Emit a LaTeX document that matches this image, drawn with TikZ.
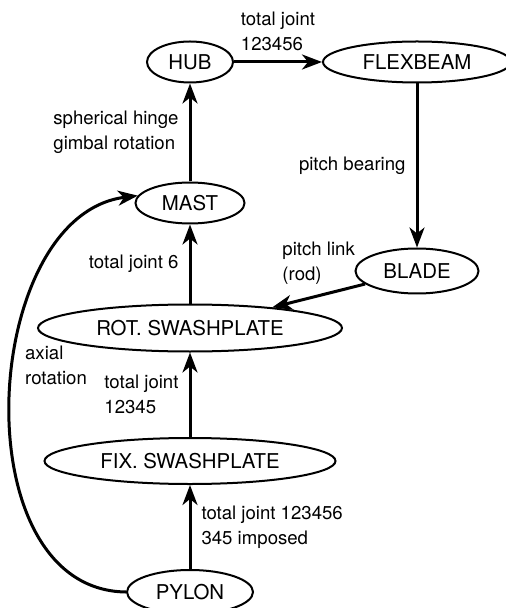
\documentclass[tikz,border=0pt]{standalone}
\usepackage{fontspec}
\setmainfont{TeX Gyre Heros}
\usetikzlibrary{arrows.meta,shapes.geometric}
\tikzset{
  part/.style={draw, ellipse, line width=1pt, inner sep=0pt, font=\fontsize{10.2}{12}\selectfont},
  link/.style={line width=1.5pt, -{Stealth[length=10pt,width=7.5pt,inset=3pt]}},
  joint/.style={font=\fontsize{9.3}{12.5}\selectfont, align=left, inner sep=5pt},
}
\begin{document}
\begin{tikzpicture}[x=0.5pt,y=-0.5pt]
\useasboundingbox (0,0) rectangle (505,608);
% parts of the rotor chain
\node[part, minimum width=43pt,   minimum height=20.5pt] (hub)      at (190,62)  {HUB};
\node[part, minimum width=94pt,   minimum height=20.5pt] (flexbeam) at (417,62)  {FLEXBEAM};
\node[part, minimum width=54.5pt, minimum height=20.5pt] (mast)     at (190,203) {MAST};
\node[part, minimum width=61.5pt, minimum height=22.5pt] (blade)    at (417,271) {BLADE};
\node[part, minimum width=152pt,  minimum height=23.5pt] (rot)      at (190,328) {ROT. SWASHPLATE};
\node[part, minimum width=145.5pt,minimum height=23pt]   (fix)      at (190,461) {FIX. SWASHPLATE};
\node[part, minimum width=63pt,   minimum height=22pt]   (pylon)    at (190,592) {PYLON};
% joints
\draw[link] (hub) -- node[joint, above] {total joint\\123456} (flexbeam);
\draw[link] (flexbeam) -- node[joint, left] {pitch bearing} (blade);
\draw[link] (blade) -- node[joint, above] {pitch link\\(rod)} (rot);
\draw[link] (mast) -- node[joint, left] {spherical hinge\\gimbal rotation} (hub);
\draw[link] (rot) -- node[joint, left] {total joint 6} (mast);
\draw[link] (fix) -- node[joint, left] {total joint\\12345} (rot);
\draw[link] (pylon) -- node[joint, right] {total joint 123456\\345 imposed} (fix);
\draw[link] (pylon.west) .. controls (-40,590) and (-20,215) .. node[joint, pos=0.56, right] {axial\\rotation} (mast.172);
\end{tikzpicture}
\end{document}
